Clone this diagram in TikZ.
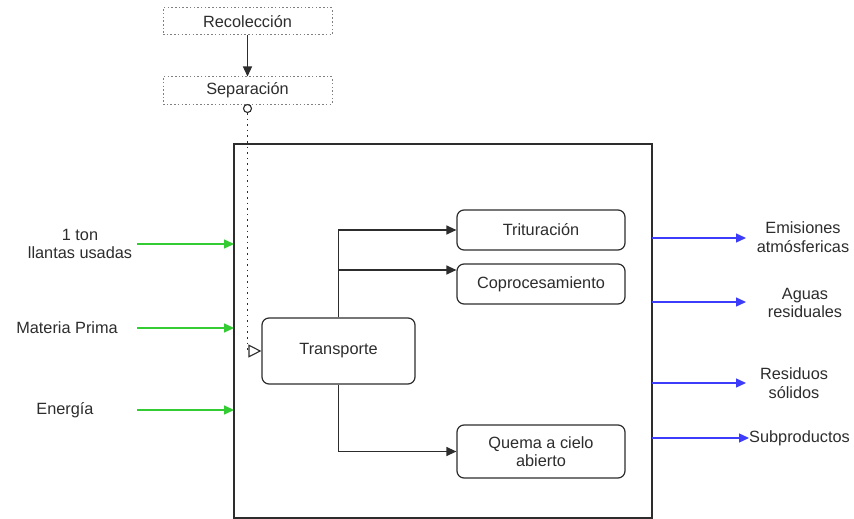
\documentclass[tikz,border=0pt]{standalone}
\usepackage{fontspec}
\setmainfont{Liberation Sans}
\usetikzlibrary{arrows.meta,positioning}
\definecolor{ink}{RGB}{45,45,45}
\definecolor{ingreen}{RGB}{51,204,51}
\definecolor{outblue}{RGB}{60,60,250}
\tikzset{
  txt/.style={font=\fontsize{16.3}{18.5}\selectfont, text=ink, align=center, inner sep=0pt},
  procbox/.style={txt, draw=ink, line width=1.2pt, rounded corners=7pt, minimum height=40pt},
  dotbox/.style={txt, draw=gray, line width=1pt, dash pattern=on 1.5pt off 2.2pt, minimum width=169pt, minimum height=27pt},
  tip/.style={-{Triangle[length=10pt,width=9pt]}},
  flow/.style={draw=ink, line width=1.2pt, tip},
  inflow/.style={draw=ingreen, line width=1.3pt, tip},
  outflow/.style={draw=outblue, line width=1.3pt, tip},
  msgflow/.style={draw=ink, line width=1.6pt, dash pattern=on 1.6pt off 4pt,
    -{Triangle[open,length=13pt,width=13pt,line width=1.1pt,sep=0pt]}},
}
\begin{document}
\begin{tikzpicture}[x=1pt,y=-1pt]
  \useasboundingbox[fill=white] (0,0) rectangle (854,519);

  % upstream stages
  \node[dotbox] (rec) at (247.5,21.5) {Recolección};
  \node[dotbox] (sep) at (247.5,90.5) {Separación};
  \draw[flow] (rec.south) -- (sep.north);

  % system boundary
  \draw[draw=ink, line width=1.3pt] (234,144) rectangle (652,518);
  \coordinate (bndW) at (234,300);
  \coordinate (bndE) at (652,300);

  % processes inside the boundary
  \node[procbox, minimum width=153pt, minimum height=66pt] (trans) at (338.5,351) {Transporte};
  \node[procbox, minimum width=168pt] (trit) at (541,230) {Trituración};
  \node[procbox, minimum width=168pt] (copro) at (541,284) {Coprocesamiento};
  \node[procbox, minimum width=168pt, minimum height=53pt] (quema) at (541,451.5) {Quema a cielo\\abierto};

  \draw[flow] (trans.north) |- (trit.west);
  \draw[flow] (trans.north |- copro.west) ++(0,-14) coordinate (br) -- (br -| copro.west);
  \draw[flow] (trans.south) |- (quema.west);

  % message flow from the separation stage
  \draw[draw=ink, line width=1.1pt, fill=white] (sep.south) ++(0,4) coordinate (ring) circle (4);
  \draw[msgflow] (ring) ++(0,4.5) |- (trans.west);

  % inputs
  \node[txt] (in1) at (80,244) {1 ton\\llantas usadas};
  \node[txt] (in2) at (67,328) {Materia Prima};
  \node[txt] (in3) at (65,410) {Energía};
  \coordinate (g1) at (137,244);
  \coordinate (g2) at (137,328);
  \coordinate (g3) at (137,410);
  \draw[inflow] (g1) -- (g1 -| bndW);
  \draw[inflow] (g2) -- (g2 -| bndW);
  \draw[inflow] (g3) -- (g3 -| bndW);

  % outputs
  \node[txt] (out1) at (803,237) {Emisiones\\atmósfericas};
  \node[txt] (out2) at (805,303) {Aguas\\residuales};
  \node[txt] (out3) at (794,383) {Residuos\\sólidos};
  \node[txt, anchor=west] (out4) at (749,438) {Subproductos};
  \coordinate (b1) at (746,238);
  \coordinate (b2) at (746,302);
  \coordinate (b3) at (746,383);
  \draw[outflow] (b1 -| bndE) -- (b1);
  \draw[outflow] (b2 -| bndE) -- (b2);
  \draw[outflow] (b3 -| bndE) -- (b3);
  \draw[outflow] (out4.west -| bndE) -- (out4.west);
\end{tikzpicture}
\end{document}
